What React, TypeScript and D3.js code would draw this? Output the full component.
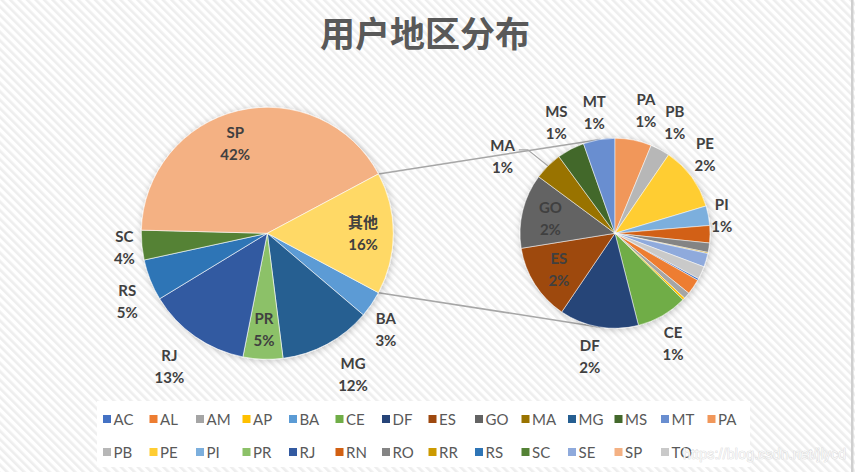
import React from 'react';
import * as d3 from 'd3';

const TITLE = '用户地区分布';
const OTHER_LABEL = '其他';
const WATERMARK = 'https://blog.csdn.net/jlycd';

// primary pie (percent of all users)
const mainCategories = ['BA', 'MG', 'PR', 'RJ', 'RS', 'SC', 'SP'];
const mainValues = [3.4, 11.8, 5.1, 13.2, 5.3, 3.8, 41.8];

// secondary pie ("其他" split)
const subCategories = ['AC', 'AL', 'AM', 'AP', 'CE', 'DF', 'ES', 'GO', 'MA', 'MS', 'MT', 'PA', 'PB', 'PE', 'PI', 'RN', 'RO', 'RR', 'SE', 'TO'];
const subValues = [0.05, 0.41, 0.17, 0.06, 1.36, 2.1, 2.03, 1.98, 0.75, 0.73, 0.84, 0.97, 0.52, 1.69, 0.52, 0.46, 0.25, 0.03, 0.36, 0.34];
const SUB_TOP_CATEGORY = 'PA';

const legendCategories = ['AC', 'AL', 'AM', 'AP', 'BA', 'CE', 'DF', 'ES', 'GO', 'MA', 'MG', 'MS', 'MT', 'PA', 'PB', 'PE', 'PI', 'PR', 'RJ', 'RN', 'RO', 'RR', 'RS', 'SC', 'SE', 'SP', 'TO'];

const COLORS: Record<string, string> = {
  AC: '#4472C4', AL: '#ED7D31', AM: '#A5A5A5', AP: '#FFC000', BA: '#5B9BD5', CE: '#70AD47',
  DF: '#264478', ES: '#9E480E', GO: '#636363', MA: '#997300', MG: '#255E91', MS: '#43682B',
  MT: '#698ED0', PA: '#F1975A', PB: '#B7B7B7', PE: '#FFCD33', PI: '#7CAFDD', PR: '#8CC168',
  RJ: '#335AA1', RN: '#D26012', RO: '#848484', RR: '#CC9A00', RS: '#2E75B6', SC: '#548235',
  SE: '#8FAADC', SP: '#F4B183', TO: '#C9C9C9', [OTHER_LABEL]: '#FFD966',
};

// label layout styling
const INSIDE_LABELS = new Set(['SP', OTHER_LABEL, 'PR', 'ES', 'GO']);
const LEADER_LABELS = new Set(['MA']);
const LABEL_NUDGE: Record<string, [number, number]> = {
  BA: [-4, 12], MG: [11, 3], RJ: [-7, 2], RS: [-4, 13], SC: [2, 0], SP: [-10, 3],
  PA: [7, -2], PE: [-5, -10], PI: [-6, 3], CE: [-5, 0], DF: [-4, 1], MA: [-26, 10],
};

const W = 855;
const H = 472;
const MAIN = { cx: 267.3, cy: 233.3, r: 126 };
const SUB = { cx: 615, cy: 233.3, r: 95 };
const LABEL_FONT = '"Lato", "Noto Sans CJK SC", sans-serif';
const LABEL_SIZE = 15;

let ctx: CanvasRenderingContext2D | null = null;
function measure(t: string, font: string) {
  if (!ctx) ctx = document.createElement('canvas').getContext('2d');
  if (!ctx) return t.length * 8;
  ctx.font = font;
  return ctx.measureText(t).width;
}

const polar = (c: { cx: number; cy: number }, r: number, a: number): [number, number] => [
  c.cx + r * Math.sin(a),
  c.cy - r * Math.cos(a),
];

function tangent(P: [number, number], C: { cx: number; cy: number; r: number }, sign: number): [number, number] {
  const dx = C.cx - P[0];
  const dy = C.cy - P[1];
  const d = Math.hypot(dx, dy);
  const theta = Math.atan2(dy, dx);
  const alpha = Math.asin(C.r / d);
  const L = Math.sqrt(d * d - C.r * C.r);
  const phi = theta + sign * alpha;
  return [P[0] + L * Math.cos(phi), P[1] + L * Math.sin(phi)];
}

type Datum = { cat: string; value: number };

export default function App() {
  const otherValue = d3.sum(subValues);
  const total = d3.sum(mainValues) + otherValue;

  const mainData: Datum[] = mainCategories.map((c, i) => ({ cat: c, value: mainValues[i] }));
  mainData.push({ cat: OTHER_LABEL, value: otherValue });
  const otherAngle = (otherValue / total) * 2 * Math.PI;
  const mainStart = Math.PI / 2 + otherAngle / 2;
  const mainArcs = d3
    .pie<Datum>()
    .sort(null)
    .value((d) => d.value)
    .startAngle(mainStart)
    .endAngle(mainStart + 2 * Math.PI)(mainData);

  const subData: Datum[] = subCategories.map((c, i) => ({ cat: c, value: subValues[i] }));
  const topIdx = subCategories.indexOf(SUB_TOP_CATEGORY);
  const subStart = -(d3.sum(subValues.slice(0, topIdx)) / otherValue) * 2 * Math.PI;
  const subArcs = d3
    .pie<Datum>()
    .sort(null)
    .value((d) => d.value)
    .startAngle(subStart)
    .endAngle(subStart + 2 * Math.PI)(subData);

  const mainArc = d3.arc<d3.PieArcDatum<Datum>>().innerRadius(0).outerRadius(MAIN.r);
  const subArc = d3.arc<d3.PieArcDatum<Datum>>().innerRadius(0).outerRadius(SUB.r);

  const other = mainArcs[mainArcs.length - 1];
  const pUp = polar(MAIN, MAIN.r, other.startAngle);
  const pDown = polar(MAIN, MAIN.r, other.endAngle);
  const tUp = tangent(pUp, SUB, -1);
  const tDown = tangent(pDown, SUB, 1);

  const font = `bold ${LABEL_SIZE}px ${LABEL_FONT}`;
  type Lab = { cat: string; pct: string; x: number; y: number; leader?: string };
  const labels: Lab[] = [];
  const makeLabels = (arcs: d3.PieArcDatum<Datum>[], c: typeof MAIN, insideF: number) => {
    arcs.forEach((a) => {
      const pctNum = Math.round((a.data.value / total) * 100);
      if (pctNum < 1) return;
      const pct = `${pctNum}%`;
      const mid = (a.startAngle + a.endAngle) / 2;
      const tw = Math.max(measure(a.data.cat, font), measure(pct, font));
      let x: number;
      let y: number;
      if (INSIDE_LABELS.has(a.data.cat)) {
        [x, y] = polar(c, c.r * insideF, mid);
      } else {
        const ux = Math.sin(mid);
        const uy = -Math.cos(mid);
        const w = tw / 2 + 3;
        const h = 22;
        const ext = Math.min(Math.abs(ux) > 1e-6 ? w / Math.abs(ux) : 1e9, Math.abs(uy) > 1e-6 ? h / Math.abs(uy) : 1e9);
        const d = c.r + 6 + ext;
        x = c.cx + ux * d;
        y = c.cy + uy * d;
      }
      const n = LABEL_NUDGE[a.data.cat];
      if (n) {
        x += n[0];
        y += n[1];
      }
      let leader: string | undefined;
      if (LEADER_LABELS.has(a.data.cat)) {
        const rim = polar(c, c.r, mid);
        const sx = x + tw / 2 + 4;
        const sy = y - 6.5;
        leader = `M${sx},${sy}L${sx + 9},${sy}L${rim[0]},${rim[1]}`;
      }
      labels.push({ cat: a.data.cat, pct, x, y, leader });
    });
  };
  makeLabels(mainArcs, MAIN, 0.76);
  makeLabels(subArcs, SUB, 0.7);

  const LEG_X0 = 103;
  const LEG_DX = 46.5;
  const LEG_PER_ROW = 14;
  const LEG_Y = [419, 452];

  return (
    <svg width={W} height={H} style={{ position: 'absolute', left: 0, top: 0 }}>
      <defs>
        <pattern id="stripes" patternUnits="userSpaceOnUse" width="6" height="6" patternTransform="rotate(-45)">
          <rect width="6" height="6" fill="#ffffff" />
          <rect width="2.6" height="6" fill="#eeeeee" />
        </pattern>
        <filter id="glow" x="-20%" y="-20%" width="140%" height="140%">
          <feGaussianBlur in="SourceAlpha" stdDeviation="3.5" />
          <feOffset dx="1" dy="1" result="b" />
          <feFlood floodColor="#000" floodOpacity="0.22" />
          <feComposite in2="b" operator="in" />
          <feMerge>
            <feMergeNode />
            <feMergeNode in="SourceGraphic" />
          </feMerge>
        </filter>
      </defs>
      <rect width={W} height={H} fill="url(#stripes)" />
      <rect x={851} y={0} width={2.5} height={H} fill="#cfcfcf" />

      <text x={425} y={47} textAnchor="middle" fill="#595959" fontSize={35} fontFamily='"Noto Sans CJK SC", sans-serif' fontWeight="bold">
        {TITLE}
      </text>

      <line x1={pUp[0]} y1={pUp[1]} x2={tUp[0]} y2={tUp[1]} stroke="#a6a6a6" strokeWidth={1.5} />
      <line x1={pDown[0]} y1={pDown[1]} x2={tDown[0]} y2={tDown[1]} stroke="#a6a6a6" strokeWidth={1.5} />

      <g transform={`translate(${MAIN.cx},${MAIN.cy})`} filter="url(#glow)">
        {mainArcs.map((a) => (
          <path key={a.data.cat} d={mainArc(a) || ''} fill={COLORS[a.data.cat]} stroke="#ffffff" strokeWidth={0.6} />
        ))}
      </g>
      <g transform={`translate(${SUB.cx},${SUB.cy})`} filter="url(#glow)">
        {subArcs.map((a) => (
          <path key={a.data.cat} d={subArc(a) || ''} fill={COLORS[a.data.cat]} stroke="#ffffff" strokeWidth={0.5} />
        ))}
      </g>

      {labels.map((l) => (
        <g key={'lab' + l.cat}>
          {l.leader && <path d={l.leader} fill="none" stroke="#a6a6a6" strokeWidth={1.2} />}
          <text textAnchor="middle" fill="#404040" fontFamily={LABEL_FONT} fontWeight="bold" fontSize={LABEL_SIZE}>
            <tspan x={l.x} y={l.y - 11} dominantBaseline="central">{l.cat}</tspan>
            <tspan x={l.x} y={l.y + 11} dominantBaseline="central">{l.pct}</tspan>
          </text>
        </g>
      ))}

      <rect x={97} y={401} width={653} height={66} fill="#ffffff" />
      {legendCategories.map((c, i) => {
        const row = Math.floor(i / LEG_PER_ROW);
        const col = i % LEG_PER_ROW;
        const x = LEG_X0 + col * LEG_DX;
        const y = LEG_Y[row];
        return (
          <g key={'leg' + c}>
            <rect x={x} y={y - 4} width={8} height={8} fill={COLORS[c]} />
            <text x={x + 10.5} y={y} dominantBaseline="central" fill="#595959" fontSize={15} fontFamily='"Lato", sans-serif'>
              {c}
            </text>
          </g>
        );
      })}

      <text x={683} y={459} fill="#f7f7f7" stroke="#cfcfcf" strokeWidth={0.6} paintOrder="stroke" fontSize={14} fontFamily='"Liberation Sans", Arial, sans-serif' textLength={163}>
        {WATERMARK}
      </text>
    </svg>
  );
}
